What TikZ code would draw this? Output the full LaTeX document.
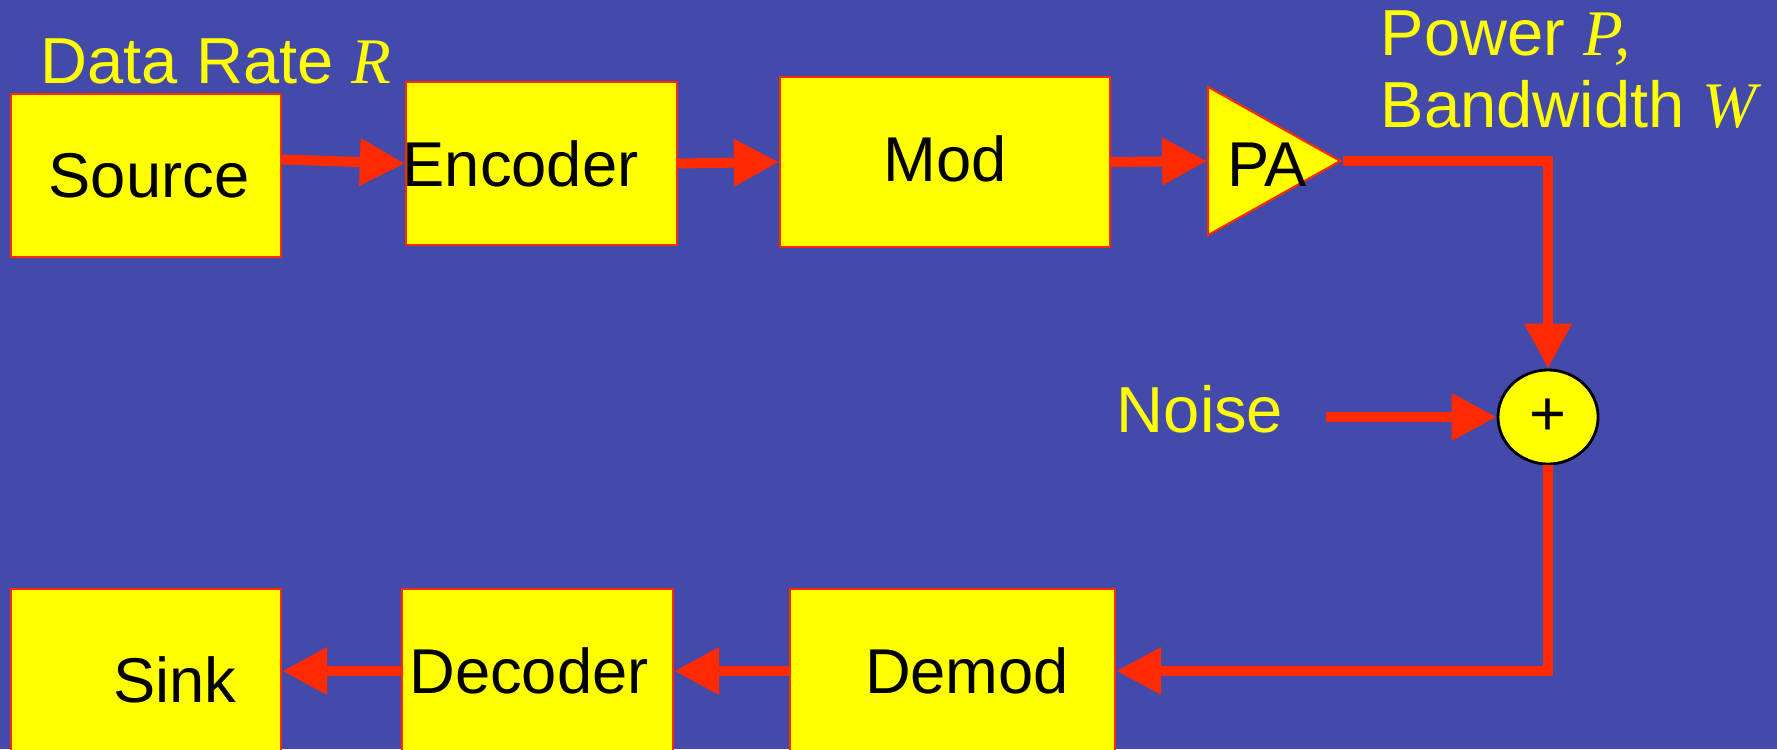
\documentclass[tikz,border=0pt]{standalone}
\usepackage{fontspec}
\setmainfont{Liberation Sans}
\newfontfamily\timesfam{Liberation Serif}
\usepackage{tikz}
\usetikzlibrary{arrows.meta, shapes.geometric}
\definecolor{chBack}{HTML}{434AAA}
\definecolor{chYellow}{HTML}{FFFF00}
\definecolor{chRed}{HTML}{FF2A00}
\newcommand{\sym}[1]{{\timesfam\itshape #1}}
\tikzset{
  line/.style={-{Triangle[length=0.45cm,width=0.45cm]}, line width=0.1cm, draw=chRed},
  block/.style={
    rectangle,
    draw=chRed,
    line width=0.6pt,
    fill=chYellow,
    inner sep=0pt
  },
  amp/.style={
    isosceles triangle,
    isosceles triangle stretches,
    draw=chRed,
    line width=0.6pt,
    fill=chYellow,
    inner sep=0pt
  },
  adder/.style={
    ellipse,
    draw=black,
    line width=0.8pt,
    fill=chYellow,
    inner sep=0pt,
    minimum width=1.0cm,
    minimum height=0.94cm
  },
  txt/.style={text=black, font=\fontsize{18}{20}\selectfont},
  note/.style={text=chYellow, font=\fontsize{18.5}{20.4}\selectfont}
}

\begin{document}
\begin{tikzpicture}[x=0.01cm, y=-0.01cm]
\useasboundingbox (0,0) rectangle (1777,749);
\clip (0,0) rectangle (1777,749);
\fill[chBack] (0,0) rectangle (1777,749);

% transmitter chain
\node[block, minimum width=2.70cm, minimum height=1.63cm, label={[txt, xshift=0.03cm]center:Source}] (source) at (146,175.5) {};
\node[block, minimum width=2.71cm, minimum height=1.63cm, label={[txt, xshift=-0.21cm]center:Encoder}] (encoder) at (541.5,163.5) {};
\node[block, minimum width=3.30cm, minimum height=1.70cm, label={[txt, yshift=0.03cm]center:Mod}] (mod) at (945,162) {};
\node[amp, minimum width=1.48cm, minimum height=1.32cm, anchor=apex] (pa) at (1343,161) {};
\node[txt] (patext) at (1267,165) {PA};

% channel
\node[adder, label={[txt]center:+}] (sum) at (1548,417) {};
\node[note] (noise) at (1200,409) {Noise};

% receiver chain
\node[block, minimum width=3.25cm, minimum height=1.64cm, label={[txt, xshift=0.145cm]center:Demod}] (demod) at (952.5,671) {};
\node[block, minimum width=2.71cm, minimum height=1.64cm, label={[txt, xshift=-0.085cm]center:Decoder}] (decoder) at (537.5,671) {};
\node[block, minimum width=2.70cm, minimum height=1.64cm, label={[txt, xshift=0.29cm, yshift=-0.09cm]center:Sink}] (sink) at (146,671) {};

% annotations
\node[note] (rate) at (216,61) {Data Rate \sym{R}};
\node[note, align=left, anchor=north west, inner sep=0pt] (power) at (1380,10) {Power \sym{P,}\\Bandwidth \sym{W}};

\draw[line] ([yshift=0.16cm]source.east) -- (encoder.west);
\draw[line] (encoder.east) -- (mod.west);
\draw[line] (mod.east) -- (pa.west);
\draw[line] (pa.apex) -| (sum.north);
\draw[line, shorten <=0.3cm] (noise.east |- sum.west) -- (sum.west);
\draw[line] (sum.south) |- (demod.east);
\draw[line] (demod.west) -- (decoder.east);
\draw[line] (decoder.west) -- (sink.east);

\end{tikzpicture}
\end{document}
